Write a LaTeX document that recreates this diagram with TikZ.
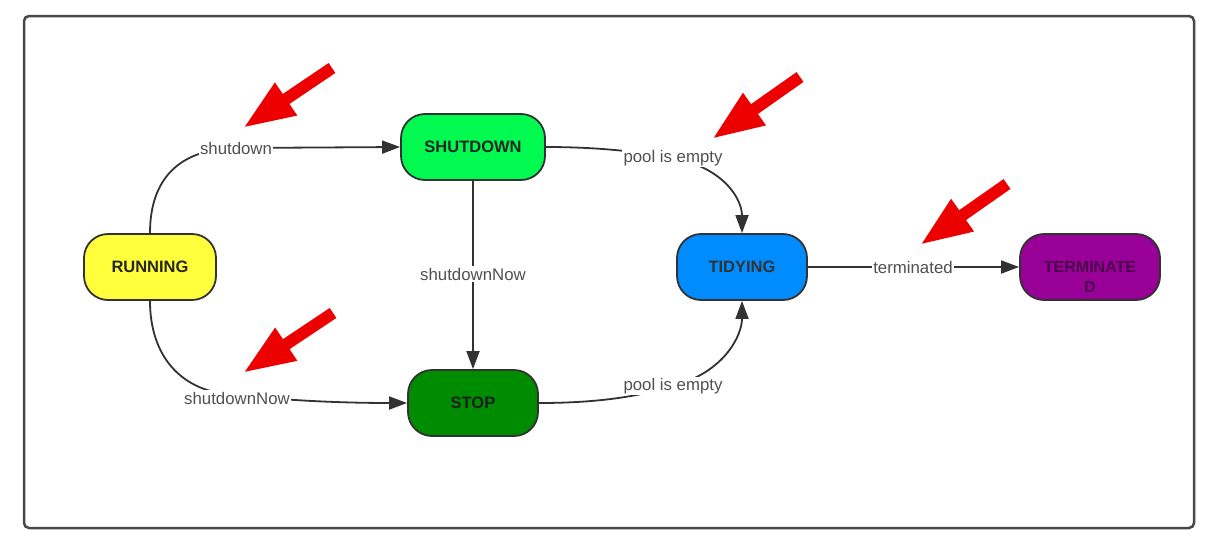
\documentclass[tikz,border=0pt]{standalone}
\usepackage{fontspec}
\setmainfont{Liberation Sans}
\usetikzlibrary{arrows.meta}
\definecolor{cRun}{RGB}{255,255,60}
\definecolor{cSd}{RGB}{0,250,80}
\definecolor{cStop}{RGB}{0,140,0}
\definecolor{cTid}{RGB}{0,140,255}
\definecolor{cTerm}{RGB}{152,0,152}
\definecolor{cEdge}{RGB}{50,50,50}
\definecolor{cLbl}{RGB}{80,80,80}
\definecolor{cRed}{RGB}{236,0,0}
\begin{document}
\begin{tikzpicture}[x=1pt,y=-1pt,
  state/.style={draw=cEdge, line width=1.8pt, rounded corners=24pt, minimum height=66pt,
    font=\fontsize{16.5}{18}\selectfont\bfseries, inner sep=0pt},
  conn/.style={draw=cEdge, line width=1.8pt, -{Triangle[length=18pt,width=13pt]}},
  lbl/.style={fill=white, text=cLbl, font=\fontsize{16.8}{18}\selectfont, inner sep=1.5pt},
  bigarrow/.style={cRed, line width=12pt, -{Triangle[length=52pt,width=36pt]}}]
\useasboundingbox (0,0) rectangle (1212,541);
\draw[draw=cLbl!90!black, line width=2.5pt, rounded corners=5pt] (24,16) rectangle (1194,528);

\node[state, fill=cRun, minimum width=132pt, text=black!85] (run) at (150,267) {RUNNING};
\node[state, fill=cSd, minimum width=144pt, text=black!85] (sd) at (473,147) {SHUTDOWN};
\node[state, fill=cStop, minimum width=130pt, text=black!88] (stop) at (473,403) {STOP};
\node[state, fill=cTid, minimum width=130pt, text=black!80] (tid) at (742,267) {TIDYING};
\node[state, fill=cTerm, minimum width=140pt] (term) at (1090,267) {};
\node[text=cTerm!50!black, align=center, inner sep=0pt, anchor=north,
  font=\fontsize{16}{20}\selectfont\bfseries] (termtxt) at ([yshift=6pt]term.center) {TERMINATE\\D};

\coordinate (c1) at (236,148);
\coordinate (c2) at (237,395);
\coordinate (c3) at (473,274);
\coordinate (c4) at (673,158);
\coordinate (c5) at (673,386);
\coordinate (c6) at (913,267);

\draw[conn] (run.north) .. controls (150,180) and (178,149) .. (c1) -- (sd.west);
\draw[conn] (run.south) .. controls (150,355) and (180,393) .. (c2) .. controls (300,402) and (360,403) .. (stop.west);
\draw[conn] (sd.south) -- (c3) -- (stop.north);
\draw[conn] (sd.east) .. controls (600,147) and (640,152) .. (c4) .. controls (725,168) and (742,200) .. (tid.north);
\draw[conn] (stop.east) .. controls (600,403) and (640,396) .. (c5) .. controls (725,372) and (742,335) .. (tid.south);
\draw[conn] (tid.east) -- (c6) -- (term.west);

\node[lbl] (l1) at (c1) {shutdown};
\node[lbl] (l2) at ([yshift=-3pt]c2) {shutdownNow};
\node[lbl] (l3) at (c3) {shutdownNow};
\node[lbl] (l4) at (c4) {pool is empty};
\node[lbl] (l5) at (c5) {pool is empty};
\node[lbl] (l6) at (c6) {terminated};

\coordinate (a1s) at (332,68);   \coordinate (a1e) at (243,128);
\coordinate (a2s) at (333,313);  \coordinate (a2e) at (243,373);
\coordinate (a3s) at (800,77);   \coordinate (a3e) at (712,139);
\coordinate (a4s) at (1007,184); \coordinate (a4e) at (920,245);
\draw[bigarrow] (a1s) -- (a1e);
\draw[bigarrow] (a2s) -- (a2e);
\draw[bigarrow] (a3s) -- (a3e);
\draw[bigarrow] (a4s) -- (a4e);
\end{tikzpicture}
\end{document}
